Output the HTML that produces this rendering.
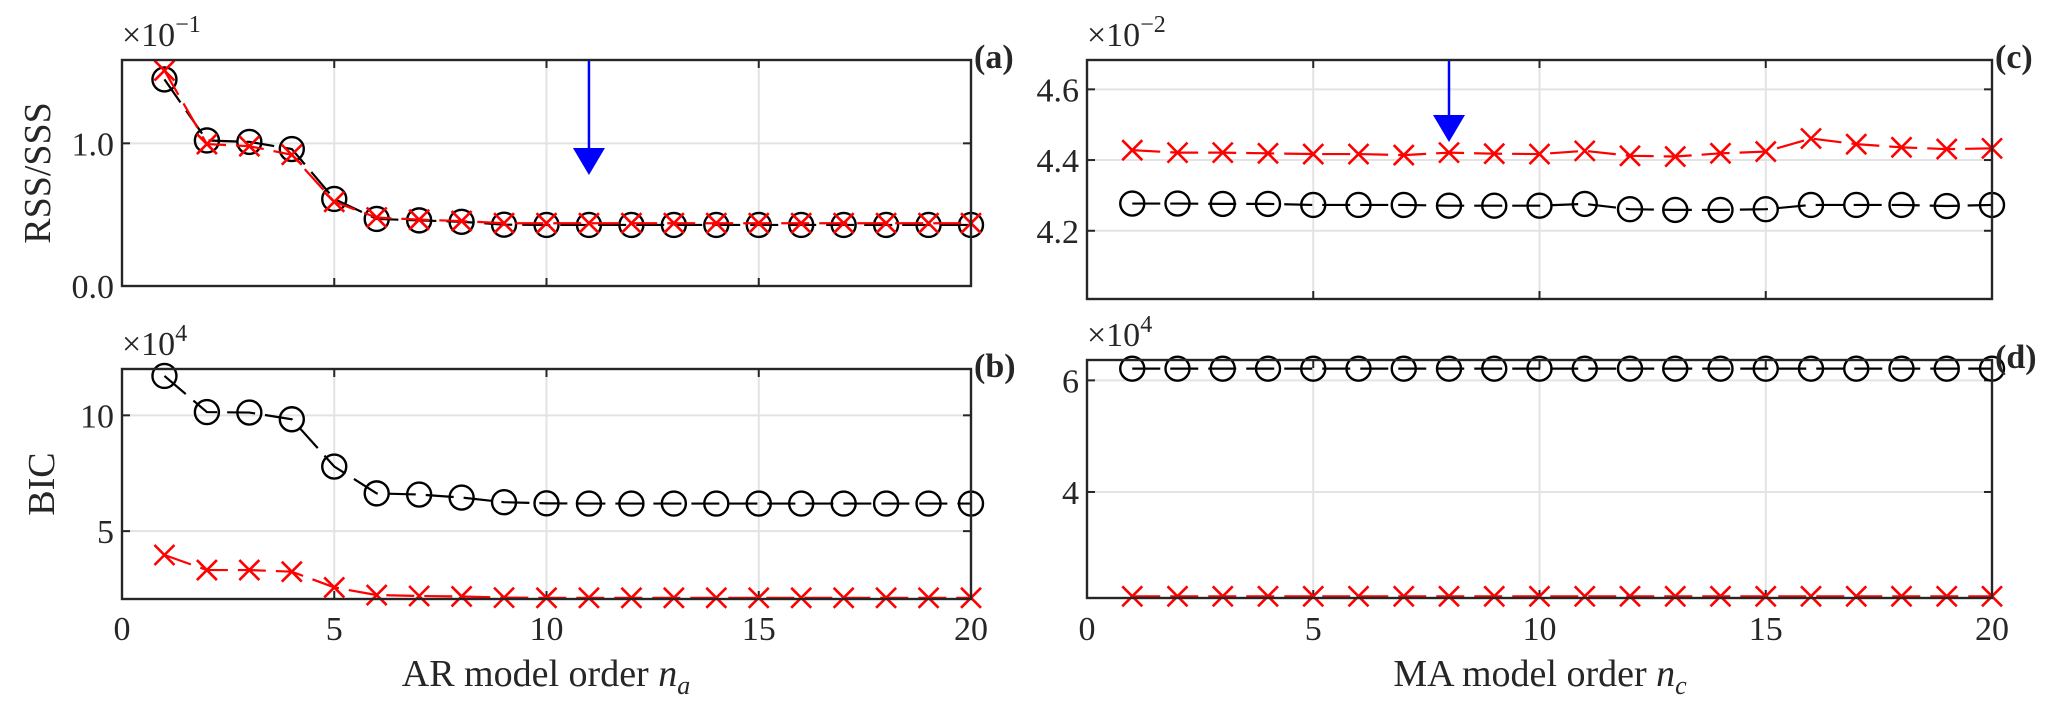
<!DOCTYPE html>
<html><head><meta charset="utf-8">
<style>
html,body{margin:0;padding:0;background:#fff;}
svg{display:block;}
text{font-family:"Liberation Serif",serif;fill:#262626;}
</style></head>
<body>
<svg id="fig" width="2067" height="710" viewBox="0 0 2067 710" xmlns="http://www.w3.org/2000/svg"></svg>
<script>
const orders = [1,2,3,4,5,6,7,8,9,10,11,12,13,14,15,16,17,18,19,20];
const arRssCircle = [1.448,1.02,1.01,0.96,0.61,0.47,0.46,0.45,0.43,0.428,0.428,0.428,0.428,0.428,0.428,0.428,0.428,0.428,0.428,0.428];
const arRssCross = [1.51,0.995,0.98,0.92,0.59,0.48,0.465,0.455,0.44,0.44,0.44,0.44,0.44,0.44,0.44,0.44,0.44,0.44,0.44,0.44];
const arBicCircle = [11.7,10.14,10.12,9.83,7.79,6.63,6.58,6.45,6.25,6.2,6.19,6.19,6.19,6.19,6.19,6.19,6.19,6.19,6.19,6.19];
const arBicCross = [3.97,3.32,3.32,3.25,2.57,2.24,2.2,2.18,2.13,2.12,2.12,2.12,2.12,2.12,2.12,2.12,2.12,2.12,2.12,2.12];
const maRssCross = [4.428,4.421,4.421,4.419,4.417,4.417,4.414,4.421,4.418,4.417,4.426,4.412,4.41,4.419,4.424,4.461,4.445,4.436,4.431,4.433];
const maRssCircle = [4.277,4.277,4.276,4.276,4.273,4.273,4.273,4.271,4.271,4.271,4.276,4.261,4.259,4.259,4.261,4.273,4.273,4.273,4.27,4.273];
const maBicCircle = [6.21,6.21,6.21,6.21,6.21,6.21,6.21,6.21,6.21,6.21,6.21,6.21,6.21,6.21,6.21,6.21,6.21,6.21,6.21,6.21];
const maBicCross = [2.13,2.13,2.13,2.13,2.13,2.13,2.13,2.13,2.13,2.13,2.13,2.13,2.13,2.13,2.13,2.13,2.13,2.13,2.13,2.13];
const xTicks = [0,5,10,15,20];
const yTicksA = [0,1.0]; const yTickLabelsA = ["0.0","1.0"];
const yTicksB = [5,10]; const yTickLabelsB = ["5","10"];
const yTicksC = [4.2,4.4,4.6]; const yTickLabelsC = ["4.2","4.4","4.6"];
const yTicksD = [4,6]; const yTickLabelsD = ["4","6"];
const arrowA = [11]; const arrowC = [8];

const NS="http://www.w3.org/2000/svg";
const svg=document.getElementById('fig');
function mk(tag,attrs,parent){const e=document.createElementNS(NS,tag);for(const k in attrs)e.setAttribute(k,attrs[k]);(parent||svg).appendChild(e);return e;}

function panel(o){
  const g=mk('g',{});
  
  
  const sx=v=>o.l+(v-0)/(20-0)*(o.r-o.l);
  const sy=v=>o.b-(v-o.y0)/(o.y1-o.y0)*(o.b-o.t);
  xTicks.forEach(v=>{ if(v>0&&v<20){const ln=mk('line',{x1:sx(v),x2:sx(v),y1:o.t,y2:o.b,stroke:'#e3e3e3','stroke-width':2},g);
    }});
  o.yt.forEach(v=>{const ln=mk('line',{x1:o.l,x2:o.r,y1:sy(v),y2:sy(v),stroke:'#e3e3e3','stroke-width':2},g);
    });
  xTicks.forEach(v=>{mk('line',{x1:sx(v),x2:sx(v),y1:o.b,y2:o.b-8,stroke:'#262626','stroke-width':2},g);mk('line',{x1:sx(v),x2:sx(v),y1:o.t,y2:o.t+8,stroke:'#262626','stroke-width':2},g);});
  o.yt.forEach((v,i)=>{mk('line',{x1:o.l,x2:o.l+8,y1:sy(v),y2:sy(v),stroke:'#262626','stroke-width':2},g);mk('line',{x1:o.r,x2:o.r-8,y1:sy(v),y2:sy(v),stroke:'#262626','stroke-width':2},g);
    const t=mk('text',{x:o.l-8,y:sy(v)+12,'text-anchor':'end','font-size':34},g);t.textContent=o.ytl[i];
    });
  if(o.xlabels){xTicks.forEach(v=>{const t=mk('text',{x:sx(v),y:640,'text-anchor':'middle','font-size':34},g);t.textContent=v;
    });}
  function series(vals,color,kind,nm){
    const pts=vals.map((v,i)=>sx(orders[i])+','+sy(v)).join(' ');
    const pl=mk('polyline',{points:pts,fill:'none',stroke:color,'stroke-width':2.2,'stroke-dasharray':'28 10'},g);
    
    vals.forEach((v,i)=>{const x=sx(orders[i]),y=sy(v);let m;
      if(kind==='o'){m=mk('circle',{cx:x,cy:y,r:12,fill:'none',stroke:color,'stroke-width':2.4},g);}
      else{m=mk('path',{d:`M${x-10},${y-10}L${x+10},${y+10}M${x-10},${y+10}L${x+10},${y-10}`,stroke:color,'stroke-width':2.6,fill:'none'},g);}
      });
  }
  o.series.forEach(s=>series(s[0],s[1],s[2],s[3]));
  if(o.arrow){o.arrow.forEach(a=>{const x=sx(a);const ln=mk('line',{x1:x,x2:x,y1:o.t,y2:o.tip-20,stroke:'#0000ff','stroke-width':2.5},g);
    
    const h=mk('polygon',{points:`${x-16},${o.tip-27} ${x+16},${o.tip-27} ${x},${o.tip}`,fill:'#0000ff'},g);
    });}
  const fr=mk('rect',{x:o.l,y:o.t,width:o.r-o.l,height:o.b-o.t,fill:'none',stroke:'#262626','stroke-width':2.4},g);
  
  const ex=mk('text',{x:o.l,y:o.t-14,'font-size':34},g);
  ex.innerHTML='×10<tspan dy="-14" font-size="24">'+o.exp+'</tspan>';
  
  const pl=mk('text',{x:o.r+3,y:o.t+8,'font-size':34,'font-weight':'bold',fill:'#111'},g);pl.textContent=o.tag;
  
}

panel({name:'panel-a',l:122,r:971,t:60,b:286,y0:0,y1:1.584,yt:yTicksA,ytl:yTickLabelsA,exp:'−1',tag:'(a)',arrow:arrowA,tip:175,
  series:[[arRssCircle,'#000','o','ar-rss-circle'],[arRssCross,'#ff0000','x','ar-rss-cross']]});
panel({name:'panel-b',l:122,r:971,t:369,b:599,y0:2.07,y1:12,yt:yTicksB,ytl:yTickLabelsB,exp:'4',tag:'(b)',xlabels:true,
  series:[[arBicCircle,'#000','o','ar-bic-circle'],[arBicCross,'#ff0000','x','ar-bic-cross']]});
panel({name:'panel-c',l:1087,r:1992,t:60,b:299,y0:4.007,y1:4.683,yt:yTicksC,ytl:yTickLabelsC,exp:'−2',tag:'(c)',arrow:arrowC,tip:142,
  series:[[maRssCircle,'#000','o','ma-rss-circle'],[maRssCross,'#ff0000','x','ma-rss-cross']]});
panel({name:'panel-d',l:1087,r:1992,t:360,b:598,y0:2.10,y1:6.365,yt:yTicksD,ytl:yTickLabelsD,exp:'4',tag:'(d)',xlabels:true,
  series:[[maBicCircle,'#000','o','ma-bic-circle'],[maBicCross,'#ff0000','x','ma-bic-cross']]});

function label(txt,x,y,rot,nm,html){const t=mk('text',{x:x,y:y,'text-anchor':'middle','font-size':38});
  if(rot)t.setAttribute('transform',`rotate(-90 ${x} ${y})`);
  if(html)t.innerHTML=txt;else t.textContent=txt;
  }
label('RSS/SSS',50,173,true,'y-axis-title-rss');
label('BIC',54,484,true,'y-axis-title-bic');
label('AR model order <tspan font-style="italic">n</tspan><tspan font-style="italic" font-size="26" dy="8">a</tspan>',546,686,false,'x-axis-title-ar',true);
label('MA model order <tspan font-style="italic">n</tspan><tspan font-style="italic" font-size="26" dy="8">c</tspan>',1540,686,false,'x-axis-title-ma',true);
</script>
</body></html>
